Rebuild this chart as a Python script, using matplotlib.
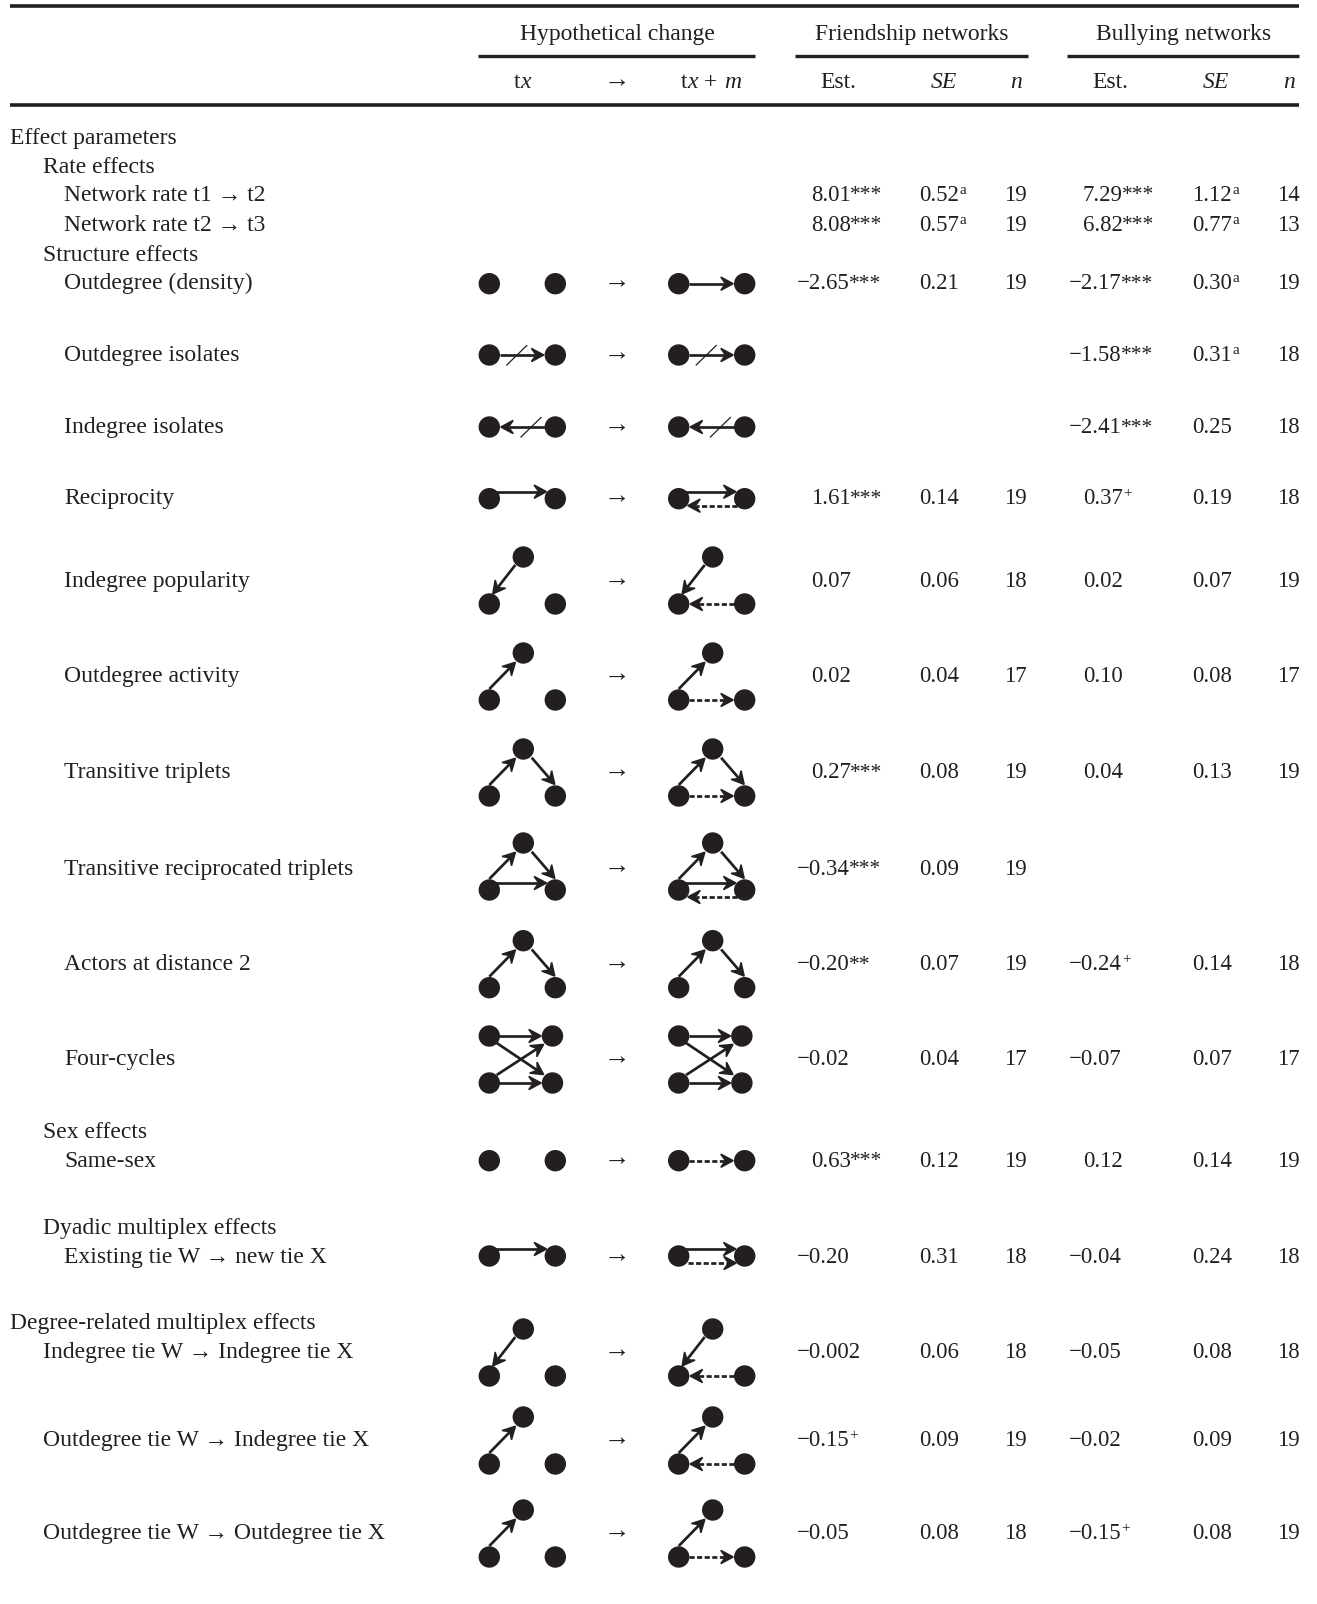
import matplotlib
matplotlib.use("Agg")
import matplotlib.pyplot as plt
import numpy as np

plt.rcParams['font.family'] = ['Liberation Serif', 'DejaVu Serif']

NOIR = '#231f20'
TAILLE = 17.0
TAILLE_NB = 16.4

# ---- contenu du tableau
titres_lignes = [
    "Effect parameters", "Rate effects", "Network rate t1 → t2", "Network rate t2 → t3",
    "Structure effects", "Outdegree (density)", "Outdegree isolates", "Indegree isolates",
    "Reciprocity", "Indegree popularity", "Outdegree activity", "Transitive triplets",
    "Transitive reciprocated triplets", "Actors at distance 2", "Four-cycles",
    "Sex effects", "Same-sex", "Dyadic multiplex effects", "Existing tie W → new tie X",
    "Degree-related multiplex effects", "Indegree tie W → Indegree tie X",
    "Outdegree tie W → Indegree tie X", "Outdegree tie W → Outdegree tie X",
]
niveaux = [0, 1, 2, 2, 1, 2, 2, 2, 2, 2, 2, 2, 2, 2, 2, 1, 2, 1, 2, 0, 1, 1, 1]

est_amis = [None, None, "8.01***", "8.08***", None, "−2.65***", None, None, "1.61***", "0.07", "0.02",
            "0.27***", "−0.34***", "−0.20**", "−0.02", None, "0.63***", None, "−0.20", None,
            "−0.002", "−0.15^+", "−0.05"]
se_amis = [None, None, "0.52^a", "0.57^a", None, "0.21", None, None, "0.14", "0.06", "0.04",
           "0.08", "0.09", "0.07", "0.04", None, "0.12", None, "0.31", None,
           "0.06", "0.09", "0.08"]
n_amis = [None, None, "19", "19", None, "19", None, None, "19", "18", "17",
          "19", "19", "19", "17", None, "19", None, "18", None,
          "18", "19", "18"]

est_harcel = [None, None, "7.29***", "6.82***", None, "−2.17***", "−1.58***", "−2.41***", "0.37^+", "0.02", "0.10",
              "0.04", None, "−0.24^+", "−0.07", None, "0.12", None, "−0.04", None,
              "−0.05", "−0.02", "−0.15^+"]
se_harcel = [None, None, "1.12^a", "0.77^a", None, "0.30^a", "0.31^a", "0.25", "0.19", "0.07", "0.08",
             "0.13", None, "0.14", "0.07", None, "0.14", None, "0.24", None,
             "0.08", "0.09", "0.08"]
n_harcel = [None, None, "14", "13", None, "19", "18", "18", "18", "19", "17",
            "19", None, "18", "17", None, "19", None, "18", None,
            "18", "19", "19"]

# schemas avant / apres pour chaque ligne (None = pas de schema)
schema_avant = [None, None, None, None, None, "vide", "out_barre", "in_barre", "haut", "pop", "act",
                "trans", "trans_rec", "trans", "four", None, "vide", None, "haut", None,
                "pop", "act", "act"]
schema_apres = [None, None, None, None, None, "un", "out_barre", "in_barre", "reciproque", "pop_in", "act_out",
                "trans_t", "trans_rec_t", "trans", "four", None, "tiret", None, "double", None,
                "pop_in", "act_in", "act_out"]

# ---- mise en page (pixels de l'image)
Y_TEXTE = [143.7, 172.7, 201, 230.7, 260.7, 289.4, 361, 433.2, 504.2, 587.2, 682.2, 778.2, 874.7, 970.2, 1065.2,
           1138.5, 1166.7, 1234, 1263.2, 1329.5, 1358.2, 1446.2, 1539.2]
Y_NOEUDS = {5: 283.7, 6: 355, 7: 427, 8: 498.7, 9: 604, 10: 700, 11: 796, 12: 890, 13: 987.7, 14: 1083,
            16: 1160.7, 18: 1256, 20: 1376, 21: 1464, 22: 1557}
RETRAITS = [10, 43, 64]
X_AVANT, X_APRES, X_FLECHE = 489.3, 678.7, 617
RAYON = 10.7
EPAIS = 1.95

fig = plt.figure(figsize=(13.17, 16.04), dpi=100)
ax = fig.add_axes([0, 0, 1, 1])
ax.set_xlim(0, 1317)
ax.set_ylim(1604, 0)
ax.axis('off')
rendu = fig.canvas.get_renderer()


def noeud(x, y):
    ax.add_patch(plt.Circle((x, y), RAYON, color=NOIR, lw=0, zorder=3))


def fleche(x0, y0, x1, y1, tirets=False):
    # trait + pointe en forme de harpon
    d = np.array([x1 - x0, y1 - y0], float)
    d = d / np.hypot(*d)
    n = np.array([-d[1], d[0]])
    bout = np.array([x1, y1], float)
    creux = bout - 8.5 * d
    style = (0, (1.9, 0.9)) if tirets else '-'
    ax.plot([x0, creux[0]], [y0, creux[1]], color=NOIR, lw=EPAIS, ls=style,
            solid_capstyle='butt', dash_capstyle='butt', zorder=4)
    pointe = [bout - 0.8 * d, bout - 13.2 * d + 6.6 * n, creux, bout - 13.2 * d - 6.6 * n]
    ax.add_patch(plt.Polygon(pointe, closed=True, facecolor=NOIR, edgecolor=NOIR,
                             lw=1.1, joinstyle='miter', zorder=5))


def barre(x, y):
    ax.plot([x, x + 20], [y + 10, y - 9.5], color=NOIR, lw=0.9, zorder=5)


def schema(nom, x, y):
    if nom == "four":
        xd = x + 63.2
        haut = y - 47
        for px, py in [(x, haut), (x, y), (xd, haut), (xd, y)]:
            noeud(px, py)
        fleche(x + 10, haut, x + 52.7, haut)
        fleche(x + 10, y, x + 52.7, y)
        fleche(x + 7.4, haut + 7, x + 55, y - 8)
        fleche(x + 7.4, y - 8, x + 55, haut + 8)
        return

    xd = x + 66
    noeud(x, y)
    noeud(xd, y)

    if nom[:3] in ("pop", "act", "tra"):
        tx, ty = x + 34, y - 47
        noeud(tx, ty)
        if nom.startswith("pop"):
            fleche(tx - 8, ty + 8, x + 3, y - 9.5)
        else:
            fleche(x, y - 11, tx - 7.3, ty + 8.7)
        if nom.startswith("trans"):
            fleche(tx + 8.4, ty + 8.7, xd, y - 11)

    if nom == "un":
        fleche(x + RAYON, y, xd - RAYON, y)
    if nom == "tiret" or nom in ("trans_t", "act_out"):
        fleche(x + RAYON, y, xd - RAYON, y, tirets=True)
    if nom == "out_barre":
        fleche(x + RAYON, y, xd - RAYON, y)
        barre(x + 17.5, y)
    if nom == "in_barre":
        fleche(xd - RAYON, y, x + RAYON, y)
        barre(x + 31.7, y)
    if nom in ("haut", "reciproque", "double", "trans_rec", "trans_rec_t"):
        fleche(x + 4, y - 7, x + 58, y - 7)
    if nom in ("reciproque", "trans_rec_t"):
        fleche(xd - 8, y + 7, x + 8.3, y + 7, tirets=True)
    if nom == "double":
        fleche(x + 9, y + 7, x + 58.3, y + 7, tirets=True)
    if nom in ("pop_in", "act_in"):
        fleche(xd - RAYON, y, x + RAYON, y, tirets=True)


def valeur(x, y, txt):
    # "^a" ou "^+" : petit exposant apres le nombre, etoiles plus serrees
    if txt is None:
        return
    base, _, expo = txt.partition("^")
    nb_etoiles = base.count("*")
    base = base.rstrip("*")
    if base.startswith("−"):
        x = x - 14
    t = ax.text(x, y, base, fontsize=TAILLE_NB, color=NOIR, ha='left', va='baseline')
    fin = t.get_window_extent(rendu).x1
    if nb_etoiles:
        ax.text(fin - 0.5, y - 0.5, "*" * nb_etoiles, fontsize=15.5, color=NOIR, ha='left', va='baseline')
    if expo:
        ax.text(fin, y - 7, expo, fontsize=11, color=NOIR, ha='left', va='baseline')


def morceaux(x_centre, y, liste):
    # texte centre avec des bouts en italique
    objets = []
    x = 0
    for txt, sty in liste:
        t = ax.text(x, y, txt, fontsize=TAILLE, color=NOIR, style=sty, ha='left', va='baseline')
        larg = t.get_window_extent(rendu).width
        objets.append((t, x))
        x += larg + (0.5 if txt.endswith(" ") else 0)
    for t, dx in objets:
        t.set_x(x_centre - x / 2 + dx)


# ---- filets
for y, x0, x1, ep in [(6.3, 10, 1299, 2.6), (105, 10, 1299, 2.6), (56, 477.5, 754.5, 2.4),
                      (56, 795, 1027.5, 2.4), (56, 1067, 1299, 2.4)]:
    ax.plot([x0, x1], [y, y], color=NOIR, lw=ep, solid_capstyle='butt')

# ---- entetes
for x, txt in [(617, "Hypothetical change"), (911.5, "Friendship networks"), (1184, "Bullying networks")]:
    ax.text(x, 40, txt, fontsize=TAILLE, color=NOIR, ha='center', va='baseline')
morceaux(522, 88.5, [("t", "normal"), ("x", "italic")])
ax.text(X_FLECHE, 87, "→", fontsize=19, color=NOIR, ha='center', va='baseline')
morceaux(711, 88.5, [("t", "normal"), ("x ", "italic"), ("+ ", "normal"), ("m", "italic")])
for x, txt, sty in [(838, "Est.", "normal"), (944, "SE", "italic"), (1016, "n", "italic"),
                    (1110, "Est.", "normal"), (1216, "SE", "italic"), (1289, "n", "italic")]:
    ax.text(x, 88.5, txt, fontsize=TAILLE, color=NOIR, style=sty, ha='center', va='baseline')

# ---- lignes du tableau
for i, titre in enumerate(titres_lignes):
    y = Y_TEXTE[i]
    ax.text(RETRAITS[niveaux[i]], y, titre, fontsize=TAILLE, color=NOIR, ha='left', va='baseline')
    valeur(811, y, est_amis[i])
    valeur(919.5, y, se_amis[i])
    valeur(1004, y, n_amis[i])
    valeur(1083, y, est_harcel[i])
    valeur(1192.5, y, se_harcel[i])
    valeur(1277.5, y, n_harcel[i])
    if schema_avant[i] is not None:
        yn = Y_NOEUDS[i]
        schema(schema_avant[i], X_AVANT, yn)
        schema(schema_apres[i], X_APRES, yn)
        ax.text(X_FLECHE, y - 1, "→", fontsize=19, color=NOIR, ha='center', va='baseline')

fig.savefig("out.png", dpi=100, facecolor='white')
